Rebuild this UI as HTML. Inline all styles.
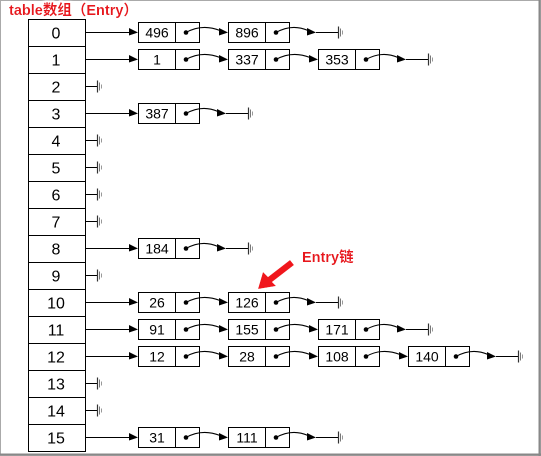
<!DOCTYPE html>
<html><head><meta charset="utf-8"><style>
html,body{margin:0;padding:0;background:#fff;}
svg{display:block;}
text{font-family:"Liberation Sans","Noto Sans CJK SC",sans-serif;}
</style></head><body>
<svg width="541" height="456" viewBox="0 0 541 456" xmlns="http://www.w3.org/2000/svg">
<defs>
<g id="gnd"><line x1="0.5" y1="-6" x2="0.5" y2="6" stroke="#333" stroke-width="1.2"/><line x1="2.5" y1="-4" x2="2.5" y2="4" stroke="#777" stroke-width="1"/><line x1="4.5" y1="-2" x2="4.5" y2="2" stroke="#999" stroke-width="1"/></g>
<g id="ah"><polygon points="-9,-4.5 0,0 -9,3" fill="#000"/></g>
<g id="box"><rect x="0.5" y="-10" width="61" height="20" fill="#fff" stroke="#000"/><line x1="37.5" y1="-10" x2="37.5" y2="10" stroke="#000"/><circle cx="48" cy="0" r="2.3" fill="#000"/></g>
<g id="link"><path d="M48 0 Q64 -9 82 -2" fill="none" stroke="#000" stroke-width="1"/><use href="#ah" x="90" y="0"/></g>
<g id="term"><path d="M48 0 Q64 -9 80 -2" fill="none" stroke="#000" stroke-width="1"/><use href="#ah" x="88" y="0"/><line x1="88" y1="0" x2="110" y2="0" stroke="#000"/><use href="#gnd" x="110" y="0"/></g>
<g id="tarr"><line x1="85" y1="0" x2="130" y2="0" stroke="#000"/><use href="#ah" x="138" y="0"/></g>
<g id="tnull"><line x1="85" y1="0" x2="97" y2="0" stroke="#000"/><use href="#gnd" x="97" y="0"/></g>
<filter id="glow" x="-20%" y="-40%" width="140%" height="180%"><feMorphology in="SourceAlpha" operator="dilate" radius="1.5" result="d"/><feFlood flood-color="#fff"/><feComposite in2="d" operator="in" result="w"/><feGaussianBlur in="w" stdDeviation="1" result="b"/><feMerge><feMergeNode in="b"/><feMergeNode in="w"/><feMergeNode in="SourceGraphic"/></feMerge></filter>
</defs>
<rect x="0.5" y="0.5" width="540" height="455" fill="#fff" stroke="#aaa"/>
<rect x="538.5" y="0" width="2" height="456" fill="#888"/>
<rect x="0" y="453.5" width="541" height="2" fill="#888"/>

<text x="9" y="15" font-size="14.5" font-weight="bold" fill="#e8141c" filter="url(#glow)">table数组（Entry）</text>

<g stroke="#000" fill="none">
<rect x="28.5" y="19.5" width="57" height="432"/>
<line x1="28" y1="46.5" x2="86" y2="46.5"/><line x1="28" y1="73.5" x2="86" y2="73.5"/><line x1="28" y1="100.5" x2="86" y2="100.5"/><line x1="28" y1="127.5" x2="86" y2="127.5"/><line x1="28" y1="154.5" x2="86" y2="154.5"/><line x1="28" y1="181.5" x2="86" y2="181.5"/><line x1="28" y1="208.5" x2="86" y2="208.5"/><line x1="28" y1="235.5" x2="86" y2="235.5"/><line x1="28" y1="262.5" x2="86" y2="262.5"/><line x1="28" y1="289.5" x2="86" y2="289.5"/><line x1="28" y1="316.5" x2="86" y2="316.5"/><line x1="28" y1="343.5" x2="86" y2="343.5"/><line x1="28" y1="370.5" x2="86" y2="370.5"/><line x1="28" y1="397.5" x2="86" y2="397.5"/><line x1="28" y1="424.5" x2="86" y2="424.5"/>
</g>
<g font-size="16" text-anchor="middle" fill="#000">
<text x="56" y="38.5">0</text><text x="56" y="65.5">1</text><text x="56" y="92.5">2</text><text x="56" y="119.5">3</text><text x="56" y="146.5">4</text><text x="56" y="173.5">5</text><text x="56" y="200.5">6</text><text x="56" y="227.5">7</text><text x="56" y="254.5">8</text><text x="56" y="281.5">9</text><text x="56" y="308.5">10</text><text x="56" y="335.5">11</text><text x="56" y="362.5">12</text><text x="56" y="389.5">13</text><text x="56" y="416.5">14</text><text x="56" y="443.5">15</text>
</g>

<use href="#tarr" y="32.5"/><use href="#tarr" y="59.5"/><use href="#tnull" y="86.5"/><use href="#tarr" y="113.5"/>
<use href="#tnull" y="140.5"/><use href="#tnull" y="167.5"/><use href="#tnull" y="194.5"/><use href="#tnull" y="221.5"/>
<use href="#tarr" y="248.5"/><use href="#tnull" y="275.5"/><use href="#tarr" y="302.5"/><use href="#tarr" y="329.5"/>
<use href="#tarr" y="356.5"/><use href="#tnull" y="383.5"/><use href="#tnull" y="410.5"/><use href="#tarr" y="437.5"/>

<g font-size="14" text-anchor="middle" fill="#000">
<g transform="translate(138,32.5)"><use href="#box"/><text x="19" y="5">496</text><use href="#link"/></g>
<g transform="translate(228,32.5)"><use href="#box"/><text x="19" y="5">896</text><use href="#term"/></g>
<g transform="translate(138,59.5)"><use href="#box"/><text x="19" y="5">1</text><use href="#link"/></g>
<g transform="translate(228,59.5)"><use href="#box"/><text x="19" y="5">337</text><use href="#link"/></g>
<g transform="translate(318,59.5)"><use href="#box"/><text x="19" y="5">353</text><use href="#term"/></g>
<g transform="translate(138,113.5)"><use href="#box"/><text x="19" y="5">387</text><use href="#term"/></g>
<g transform="translate(138,248.5)"><use href="#box"/><text x="19" y="5">184</text><use href="#term"/></g>
<g transform="translate(138,302.5)"><use href="#box"/><text x="19" y="5">26</text><use href="#link"/></g>
<g transform="translate(228,302.5)"><use href="#box"/><text x="19" y="5">126</text><use href="#term"/></g>
<g transform="translate(138,329.5)"><use href="#box"/><text x="19" y="5">91</text><use href="#link"/></g>
<g transform="translate(228,329.5)"><use href="#box"/><text x="19" y="5">155</text><use href="#link"/></g>
<g transform="translate(318,329.5)"><use href="#box"/><text x="19" y="5">171</text><use href="#term"/></g>
<g transform="translate(138,356.5)"><use href="#box"/><text x="19" y="5">12</text><use href="#link"/></g>
<g transform="translate(228,356.5)"><use href="#box"/><text x="19" y="5">28</text><use href="#link"/></g>
<g transform="translate(318,356.5)"><use href="#box"/><text x="19" y="5">108</text><use href="#link"/></g>
<g transform="translate(408,356.5)"><use href="#box"/><text x="19" y="5">140</text><use href="#term"/></g>
<g transform="translate(138,437.5)"><use href="#box"/><text x="19" y="5">31</text><use href="#link"/></g>
<g transform="translate(228,437.5)"><use href="#box"/><text x="19" y="5">111</text><use href="#term"/></g>
</g>

<text x="302" y="262" font-size="14.5" font-weight="bold" fill="#e8141c" filter="url(#glow)">Entry链</text>
<g filter="url(#glow)">
<polygon points="258,289 263,272 268,277 290,260 294,265 272,282 276,286" fill="#f0141c"/>
</g>
</svg>
</body></html>
